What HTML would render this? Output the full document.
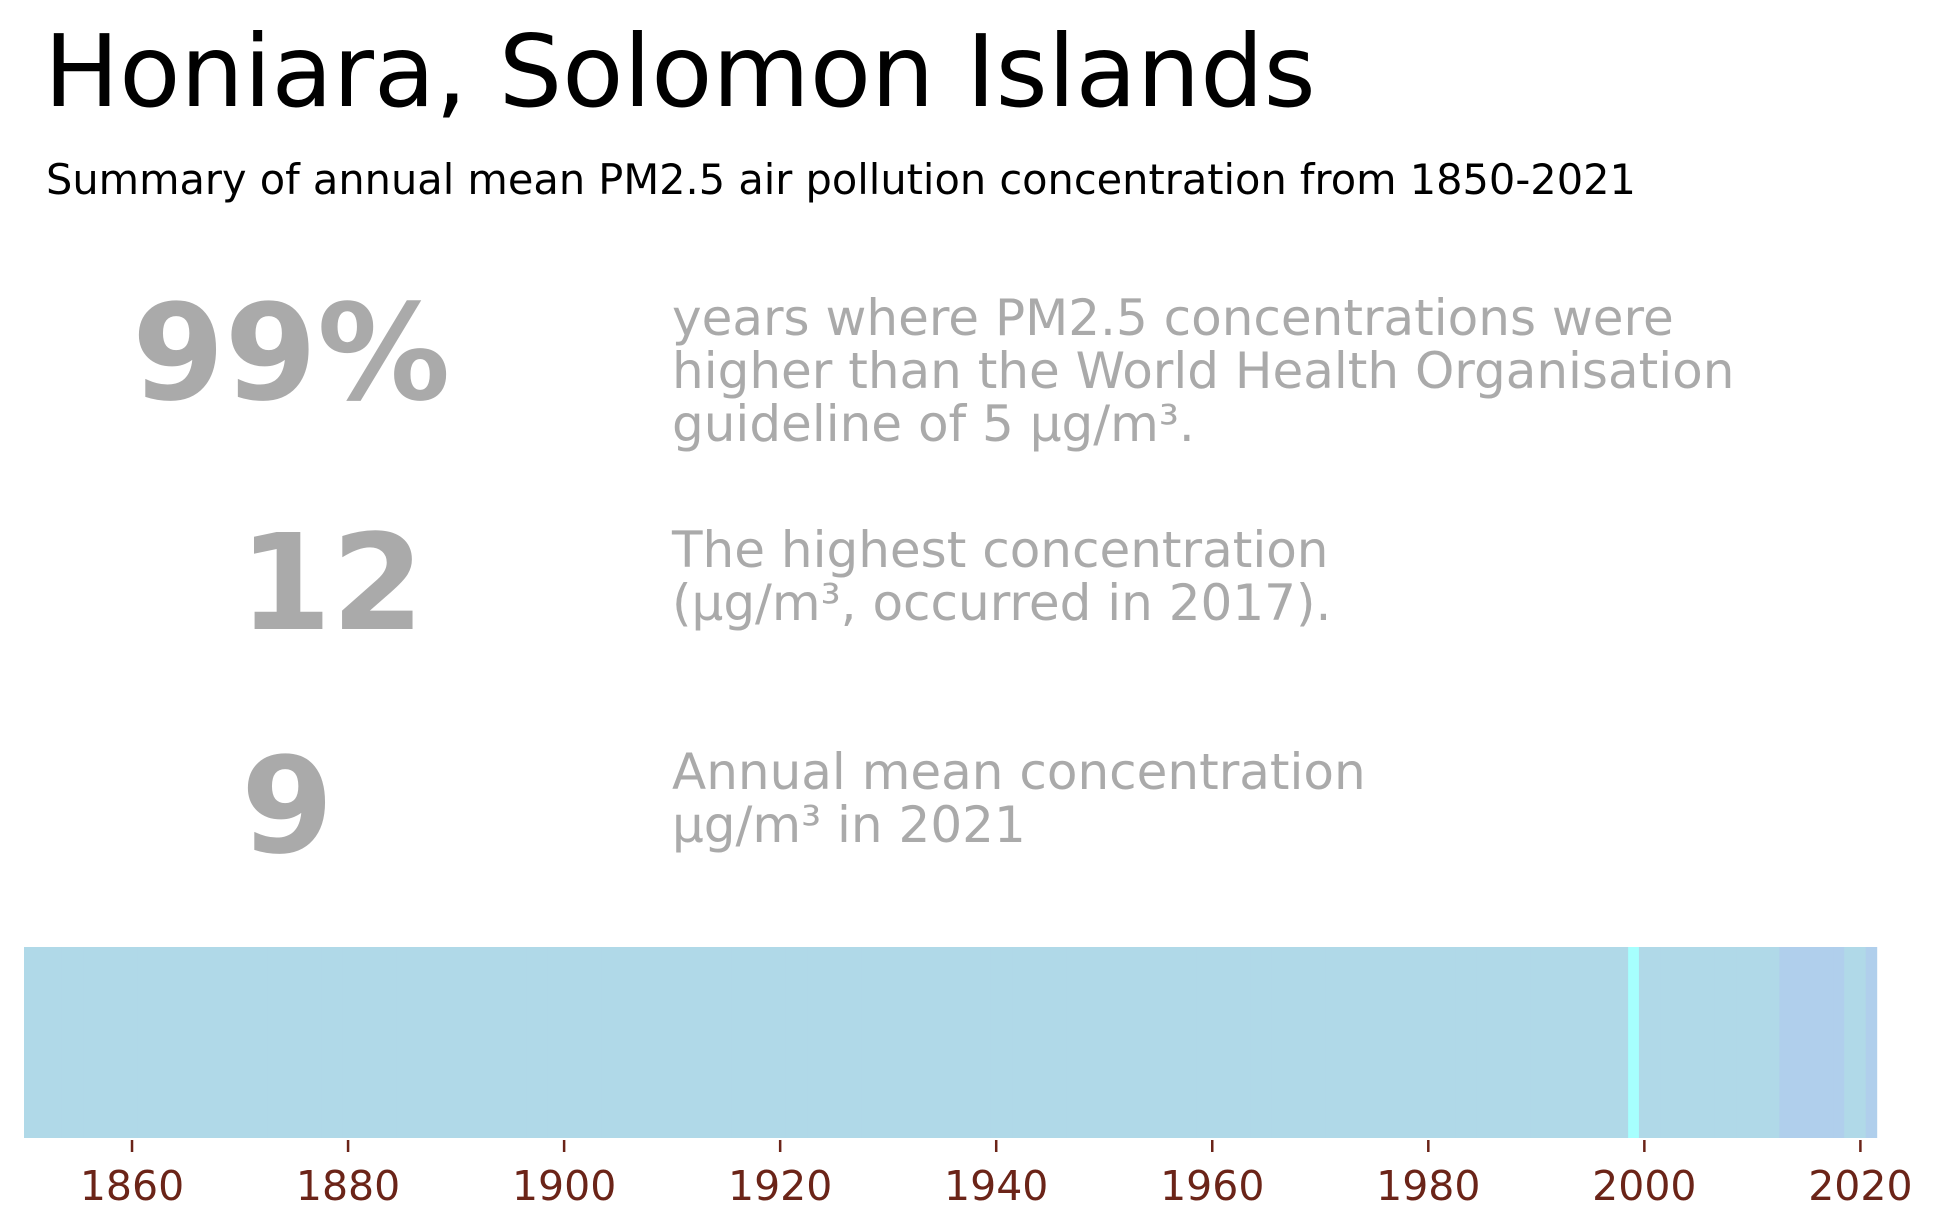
<!DOCTYPE html>
<html><head><meta charset="utf-8"><style>
body{margin:0;background:#fff;width:1938px;height:1224px;overflow:hidden;font-family:"DejaVu Sans","Liberation Sans",sans-serif;position:relative}
.t{position:absolute;white-space:nowrap;line-height:1}
.g{color:#aaaaaa}
</style></head><body>
<div class="t" style="left:44px;top:22px;font-size:100px;color:#000">Honiara, Solomon Islands</div>
<div class="t" style="left:46px;top:159px;font-size:41.5px;color:#000">Summary of annual mean PM2.5 air pollution concentration from 1850-2021</div>
<div class="t g" style="left:132px;top:288px;font-size:133px;font-weight:bold">99%</div>
<div class="t g" style="left:672px;top:292px;font-size:50px;line-height:53px">years where PM2.5 concentrations were<br>higher than the World Health Organisation<br>guideline of 5 μg/m³.</div>
<div class="t g" style="left:239px;top:518px;font-size:133px;font-weight:bold">12</div>
<div class="t g" style="left:672px;top:524px;font-size:50px;line-height:53px">The highest concentration<br>(μg/m³, occurred in 2017).</div>
<div class="t g" style="left:241px;top:741px;font-size:133px;font-weight:bold">9</div>
<div class="t g" style="left:672px;top:746px;font-size:50px;line-height:53px">Annual mean concentration<br>μg/m³ in 2021</div>
<svg id="chart" width="1938" height="1224" style="position:absolute;left:0;top:0"></svg>
<script>
const years=[];for(let y=1850;y<=2021;y++)years.push(y);
const highYears=[2013,2014,2015,2016,2017,2018,2021];
const lowYears=[1999];
const ticks=[1860,1880,1900,1920,1940,1960,1980,2000,2020];
const NS="http://www.w3.org/2000/svg";
const svg=document.getElementById('chart');
const x0=1850,x1=2022,px0=24,px1=1882;
function xs(v){return px0+(v-x0)*(px1-px0)/(x1-x0);}
const barTop=947,barBot=1138;
years.forEach(y=>{
 const r=document.createElementNS(NS,'rect');
 
 
 const a=Math.max(xs(y-0.5),xs(1850)),b=Math.min(xs(y+0.5),xs(2021.9));
 r.setAttribute('x',a);r.setAttribute('width',b-a+0.6);
 r.setAttribute('y',barTop);r.setAttribute('height',barBot-barTop);
 let c='#b0d9e8';if(highYears.includes(y))c='#b0cfec';if(lowYears.includes(y))c='#a6fffe';
 r.setAttribute('fill',c);svg.appendChild(r);
});
ticks.forEach(t=>{
 const l=document.createElementNS(NS,'line');
 
 
 l.setAttribute('x1',xs(t));l.setAttribute('x2',xs(t));l.setAttribute('y1',barBot+2);l.setAttribute('y2',barBot+14);
 l.setAttribute('stroke','#6b2418');l.setAttribute('stroke-width','2.5');svg.appendChild(l);
 const tx=document.createElementNS(NS,'text');
 
 
 tx.setAttribute('x',xs(t));tx.setAttribute('y',1200);tx.setAttribute('text-anchor','middle');
 tx.setAttribute('font-size','41');tx.setAttribute('fill','#6b2418');
 tx.setAttribute('font-family','DejaVu Sans, Liberation Sans, sans-serif');
 tx.textContent=t;svg.appendChild(tx);
});
</script>
</body></html>
